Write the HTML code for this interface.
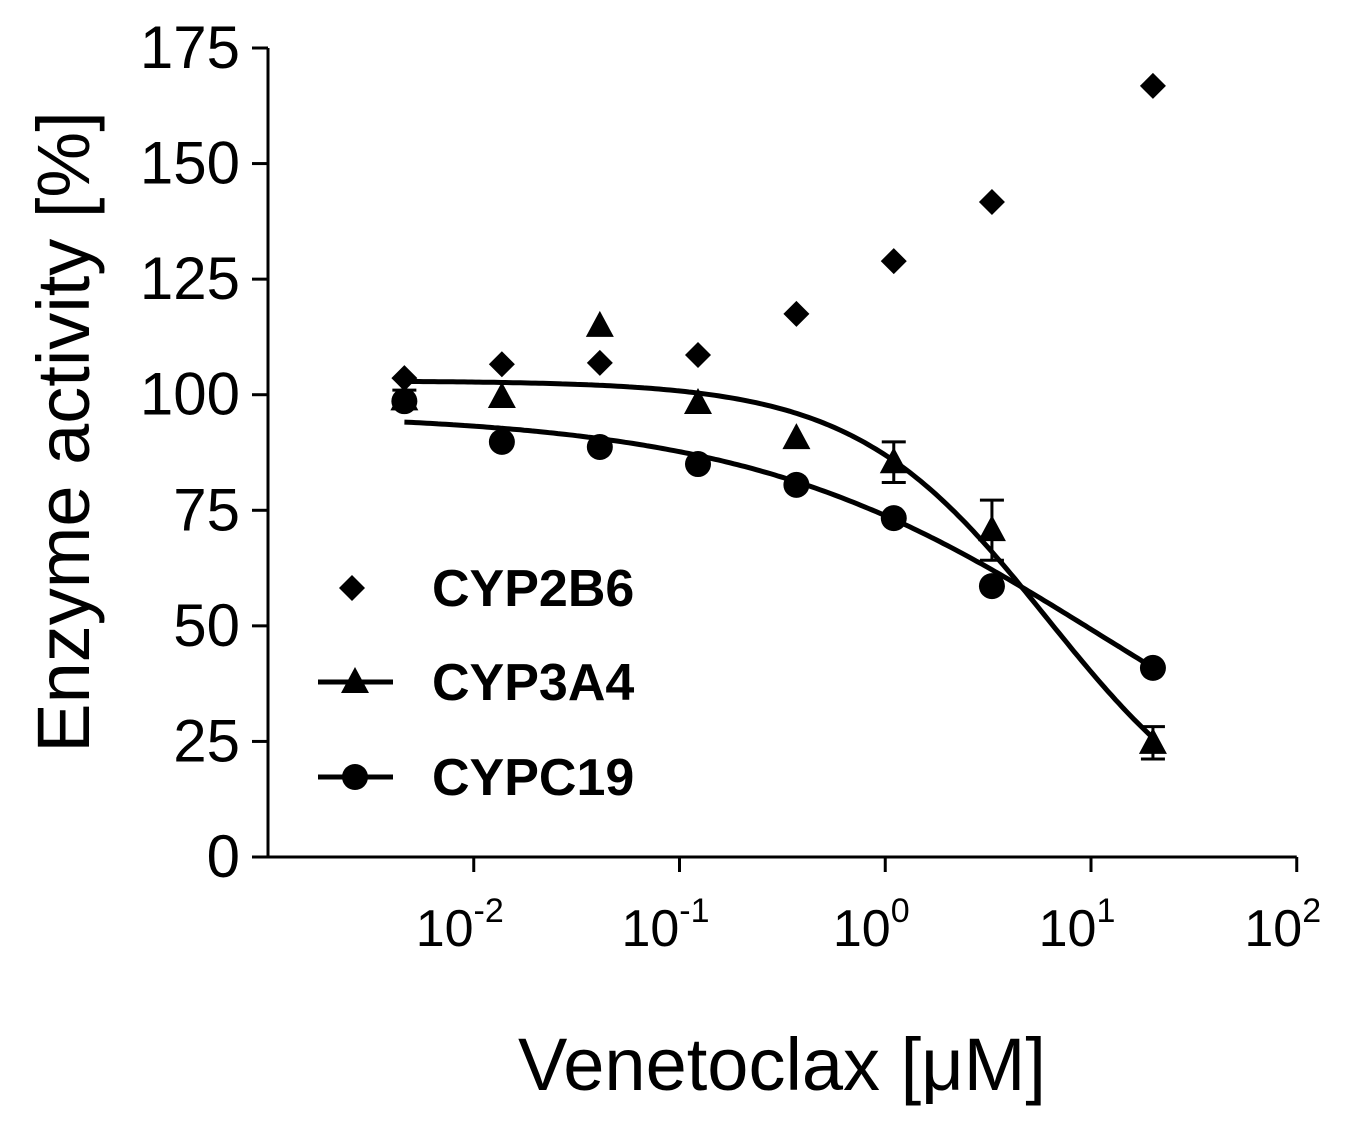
<!DOCTYPE html>
<html><head><meta charset="utf-8">
<style>
html,body{margin:0;padding:0;background:#fff;}
svg{display:block;font-family:"Liberation Sans",Arial,sans-serif;}
</style></head>
<body>
<svg id="chart" width="1363" height="1123" viewBox="0 0 1363 1123" xmlns="http://www.w3.org/2000/svg">
<g id="axes"></g>
<g id="marks"></g>
<g id="legend"></g>
</svg>
<script>
const conc = [0.0046, 0.0137, 0.041, 0.123, 0.37, 1.1, 3.3, 20];
const cyp2b6 = [103.6, 106.6, 106.9, 108.6, 117.5, 128.9, 141.7, 166.8];
const cyp3a4 = [99, 99.5, 114.9, 98.2, 90.6, 85.4, 70.7, 24.7];
const cyp3a4Err = [2, 0, 0, 0, 0, 4.4, 6.5, 3.5];
const cypc19 = [98.6, 89.8, 88.7, 85.0, 80.5, 73.3, 58.6, 40.9];
const fit3a4 = [103, 6.15, 0.93];
const fitc19 = [96, 11.1, 0.5];
const yTicks = [0, 25, 50, 75, 100, 125, 150, 175];
const xTickExps = [-2, -1, 0, 1, 2];

const NS = "http://www.w3.org/2000/svg";
const X0 = 268, Y0 = 857, DEC = 205.75, YS = (857 - 48) / 175;
const xs = v => X0 + (Math.log10(v) + 3) * DEC;
const ys = v => Y0 - v * YS;
function mk(tag, attrs, parent) {
  const e = document.createElementNS(NS, tag);
  for (const k in attrs) e.setAttribute(k, attrs[k]);
  parent.appendChild(e);
  return e;
}
const axes = document.getElementById('axes');
const marks = document.getElementById('marks');
const legend = document.getElementById('legend');

let e = mk('line', {x1: X0, y1: 48, x2: X0, y2: Y0, stroke: '#000', 'stroke-width': 3}, axes);


e = mk('line', {x1: X0, y1: Y0, x2: X0 + 5 * DEC, y2: Y0, stroke: '#000', 'stroke-width': 3}, axes);



yTicks.forEach(t => {
  const y = ys(t);
  let l = mk('line', {x1: 252, y1: y, x2: X0, y2: y, stroke: '#000', 'stroke-width': 3}, axes);
  
  
  let tx = mk('text', {x: 240, y: y + 20, 'font-size': 60, 'text-anchor': 'end'}, axes);
  tx.textContent = t;
  
  
});
xTickExps.forEach(p => {
  const x = xs(Math.pow(10, p));
  let l = mk('line', {x1: x, y1: Y0, x2: x, y2: 872, stroke: '#000', 'stroke-width': 3}, axes);
  
  
  let tx = mk('text', {x: x - 14, y: 946, 'font-size': 52, 'text-anchor': 'middle'}, axes);
  tx.textContent = '10';
  let sp = mk('tspan', {dy: -24, 'font-size': 34}, tx);
  sp.textContent = String(p);
  
  
});
e = mk('text', {x: 0, y: 0, 'font-size': 74, 'text-anchor': 'middle', transform: 'translate(89,432) rotate(-90)'}, axes);
e.textContent = 'Enzyme activity [%]';


e = mk('text', {x: 782, y: 1090, 'font-size': 74, 'text-anchor': 'middle'}, axes);
e.textContent = 'Venetoclax [\u03bcM]';



function curve(p, name) {
  let d = '';
  const a = Math.log10(conc[0]), b = Math.log10(conc[conc.length - 1]);
  for (let i = 0; i <= 200; i++) {
    const c = Math.pow(10, a + (b - a) * i / 200);
    const v = p[0] / (1 + Math.pow(c / p[1], p[2]));
    d += (i ? 'L' : 'M') + xs(c).toFixed(1) + ' ' + ys(v).toFixed(1);
  }
  const el = mk('path', {d: d, fill: 'none', stroke: '#000', 'stroke-width': 5}, marks);
  
  
}
curve(fit3a4, 'cyp3a4-fit-curve');
curve(fitc19, 'cypc19-fit-curve');

function diamond(x, y, parent) {
  return mk('polygon', {points: `${x},${y-13} ${x+13},${y} ${x},${y+13} ${x-13},${y}`, fill: '#000'}, parent);
}
function tri(x, y, parent) {
  return mk('polygon', {points: `${x},${y-15} ${x+14},${y+11} ${x-14},${y+11}`, fill: '#000'}, parent);
}
conc.forEach((c, i) => {
  const x = xs(c);
  let d = diamond(x, ys(cyp2b6[i]), marks);
  
  
  if (cyp3a4Err[i] > 0) {
    const yt = ys(cyp3a4[i] + cyp3a4Err[i]), yb = ys(cyp3a4[i] - cyp3a4Err[i]);
    let eb = mk('path', {d: `M${x} ${yb}L${x} ${yt}M${x-12} ${yt}L${x+12} ${yt}M${x-12} ${yb}L${x+12} ${yb}`, stroke: '#000', 'stroke-width': 3, fill: 'none'}, marks);
    
    
  }
  let t = tri(x, ys(cyp3a4[i]), marks);
  
  
  let ci = mk('circle', {cx: x, cy: ys(cypc19[i]), r: 13, fill: '#000'}, marks);
  
  
});

e = diamond(352, 588, legend);


e = mk('line', {x1: 318, y1: 682, x2: 393, y2: 682, stroke: '#000', 'stroke-width': 5}, legend);


e = tri(355, 682, legend);


e = mk('line', {x1: 318, y1: 777, x2: 393, y2: 777, stroke: '#000', 'stroke-width': 5}, legend);


e = mk('circle', {cx: 355, cy: 777, r: 13, fill: '#000'}, legend);


[['CYP2B6', 606], ['CYP3A4', 700], ['CYPC19', 795]].forEach(([s, y]) => {
  const t = mk('text', {x: 432, y: y, 'font-size': 52, 'font-weight': 'bold'}, legend);
  t.textContent = s;
  
  
});
</script>
</body></html>
